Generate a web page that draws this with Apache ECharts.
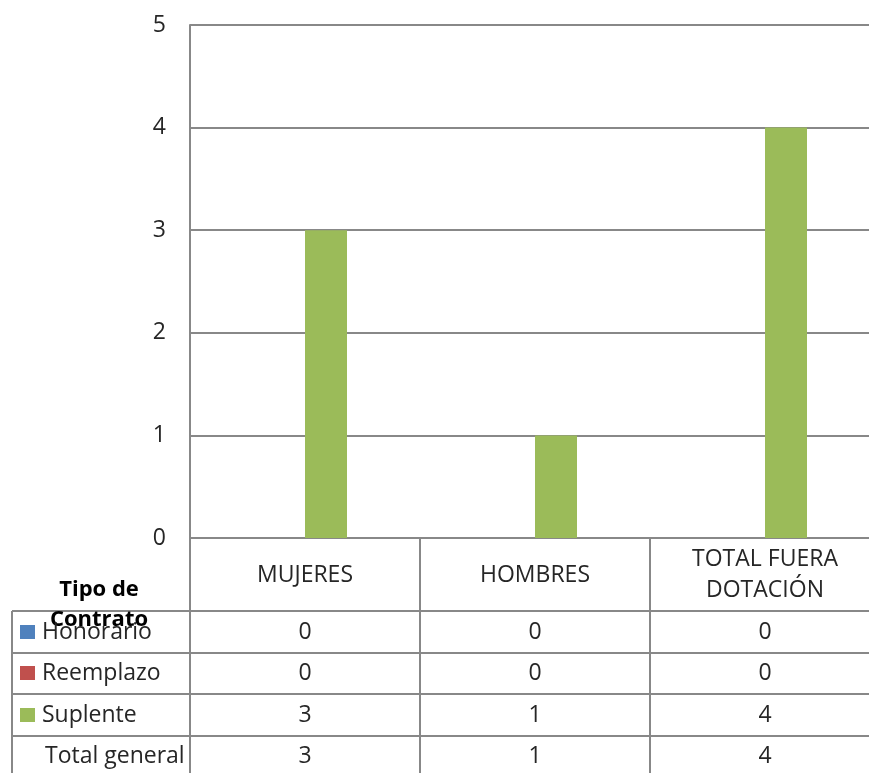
<!DOCTYPE html>
<html>
<head>
<meta charset="utf-8">
<script src="https://cdn.jsdelivr.net/npm/echarts@6/dist/echarts.min.js"></script>
<style>
html,body{margin:0;padding:0;background:#fff;}
#main{width:869px;height:773px;}
</style>
</head>
<body>
<div id="main"></div>
<script>
var categories = ['MUJERES', 'HOMBRES', 'TOTAL FUERA\nDOTACIÓN'];
var seriesNames = ['Honorario', 'Reemplazo', 'Suplente', 'Total general'];
var honorario = [0, 0, 0];
var reemplazo = [0, 0, 0];
var suplente = [3, 1, 4];
var totalGeneral = [3, 1, 4];
var seriesColors = ['#4F81BD', '#C0504D', '#9BBB59', null];
var yTicks = [0, 1, 2, 3, 4, 5];

var FONT = 'Open Sans';
var TXT = '#262626';
var LINE = '#888888';
var FS = 23;

var chart = echarts.init(document.getElementById('main'));
var allValues = [honorario, reemplazo, suplente, totalGeneral];

chart.setOption({
  animation: false,
  backgroundColor: '#ffffff',
  grid: {left: 190, width: 690, top: 25, bottom: 235, outerBoundsMode: 'none', containLabel: false},
  xAxis: {
    type: 'category',
    data: categories,
    axisLine: {show: true, lineStyle: {color: LINE, width: 2}},
    axisTick: {show: true, length: 240, alignWithLabel: false, lineStyle: {color: LINE, width: 2}},
    axisLabel: {show: false},
    splitLine: {show: false}
  },
  yAxis: {
    type: 'value',
    min: yTicks[0],
    max: yTicks[yTicks.length - 1],
    interval: 1,
    axisLine: {show: true, lineStyle: {color: LINE, width: 2}},
    axisTick: {show: false},
    axisLabel: {fontSize: FS, color: TXT, fontFamily: FONT, margin: 24},
    splitLine: {show: true, lineStyle: {color: LINE, width: 2}}
  },
  series: seriesNames.map(function (n, i) {
    return {
      name: n,
      type: 'bar',
      data: allValues[i],
      barWidth: 42,
      barGap: '0%',
      itemStyle: seriesColors[i] ? {color: seriesColors[i]} : {color: 'rgba(0,0,0,0)'}
    };
  })
});

// data table drawn below the axis, columns aligned with the category axis
var rowLines = [611, 653, 694, 736];
var rowCenters = [632, 673, 715, 756];
var tableLeft = 12;
var tableRight = 880;
var g = [];
rowLines.forEach(function (y) {
  g.push({type: 'line', shape: {x1: tableLeft, y1: y, x2: tableRight, y2: y}, style: {stroke: LINE, lineWidth: 2}, z: 10});
});
g.push({type: 'line', shape: {x1: tableLeft, y1: 611, x2: tableLeft, y2: 773}, style: {stroke: LINE, lineWidth: 2}, z: 10});

// header
g.push({type: 'text', x: 99, y: 590, style: {text: 'Tipo de', fontFamily: FONT, fontSize: FS - 1, fontWeight: 'bold', fill: '#000', align: 'center', verticalAlign: 'middle'}, z: 11});
g.push({type: 'text', x: 99, y: 620, style: {text: 'Contrato', fontFamily: FONT, fontSize: FS - 1, fontWeight: 'bold', fill: '#000', align: 'center', verticalAlign: 'middle'}, z: 11});

categories.forEach(function (c, ci) {
  var px = chart.convertToPixel({xAxisIndex: 0}, ci);
  g.push({type: 'text', x: px, y: 575, style: {text: c, fontFamily: FONT, fontSize: FS, fill: TXT, align: 'center', verticalAlign: 'middle', lineHeight: 31}, z: 11});
  allValues.forEach(function (arr, ri) {
    g.push({type: 'text', x: px, y: rowCenters[ri], style: {text: String(arr[ci]), fontFamily: FONT, fontSize: FS, fill: TXT, align: 'center', verticalAlign: 'middle'}, z: 11});
  });
});

seriesNames.forEach(function (n, ri) {
  if (seriesColors[ri]) {
    g.push({type: 'rect', shape: {x: 20, y: rowCenters[ri] - 7, width: 15, height: 14}, style: {fill: seriesColors[ri]}, z: 11});
  }
  g.push({type: 'text', x: seriesColors[ri] ? 42 : 45, y: rowCenters[ri], style: {text: n, fontFamily: FONT, fontSize: FS, fill: TXT, align: 'left', verticalAlign: 'middle'}, z: 11});
});

chart.setOption({graphic: g});
</script>
</body>
</html>
